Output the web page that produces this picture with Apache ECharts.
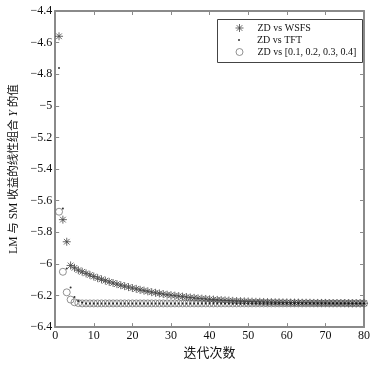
<!DOCTYPE html>
<html><head><meta charset="utf-8">
<script src="https://cdn.jsdelivr.net/npm/echarts@6/dist/echarts.min.js"></script>
<style>html,body{margin:0;padding:0;background:#fff}#c{width:381px;height:365px}</style>
</head><body><div id="c"></div>
<script>
const xTicks = [0, 10, 20, 30, 40, 50, 60, 70, 80];
const yTicks = [-6.4, -6.2, -6, -5.8, -5.6, -5.4, -5.2, -5, -4.8, -4.6, -4.4];
const seriesNames = ['ZD vs WSFS', 'ZD vs TFT', 'ZD vs [0.1, 0.2, 0.3, 0.4]'];
const iterations = [1,2,3,4,5,6,7,8,9,10,11,12,13,14,15,16,17,18,19,20,21,22,23,24,25,26,27,28,29,30,31,32,33,34,35,36,37,38,39,40,41,42,43,44,45,46,47,48,49,50,51,52,53,54,55,56,57,58,59,60,61,62,63,64,65,66,67,68,69,70,71,72,73,74,75,76,77,78,79,80];
const wsfs = [-4.56,-5.72,-5.86,-6.01,-6.025,-6.04,-6.05,-6.06,-6.07,-6.08,-6.09,-6.098,-6.106,-6.114,-6.121,-6.128,-6.135,-6.141,-6.147,-6.153,-6.158,-6.164,-6.169,-6.174,-6.179,-6.183,-6.187,-6.191,-6.195,-6.198,-6.201,-6.204,-6.207,-6.21,-6.213,-6.215,-6.218,-6.22,-6.222,-6.224,-6.226,-6.228,-6.229,-6.231,-6.232,-6.234,-6.235,-6.236,-6.237,-6.238,-6.239,-6.24,-6.24,-6.241,-6.242,-6.242,-6.243,-6.243,-6.244,-6.244,-6.245,-6.245,-6.245,-6.246,-6.246,-6.246,-6.247,-6.247,-6.247,-6.247,-6.248,-6.248,-6.248,-6.248,-6.248,-6.249,-6.249,-6.249,-6.249,-6.249];
const tft = [-4.76,-5.65,-6.03,-6.15,-6.21,-6.235,-6.245,-6.25,-6.25,-6.25,-6.25,-6.25,-6.25,-6.25,-6.25,-6.25,-6.25,-6.25,-6.25,-6.25,-6.25,-6.25,-6.25,-6.25,-6.25,-6.25,-6.25,-6.25,-6.25,-6.25,-6.25,-6.25,-6.25,-6.25,-6.25,-6.25,-6.25,-6.25,-6.25,-6.25,-6.25,-6.25,-6.25,-6.25,-6.25,-6.25,-6.25,-6.25,-6.25,-6.25,-6.25,-6.25,-6.25,-6.25,-6.25,-6.25,-6.25,-6.25,-6.25,-6.25,-6.25,-6.25,-6.25,-6.25,-6.25,-6.25,-6.25,-6.25,-6.25,-6.25,-6.25,-6.25,-6.25,-6.25,-6.25,-6.25,-6.25,-6.25,-6.25,-6.25];
const fixedW = [-5.67,-6.05,-6.18,-6.226,-6.243,-6.248,-6.25,-6.25,-6.25,-6.25,-6.25,-6.25,-6.25,-6.25,-6.25,-6.25,-6.25,-6.25,-6.25,-6.25,-6.25,-6.25,-6.25,-6.25,-6.25,-6.25,-6.25,-6.25,-6.25,-6.25,-6.25,-6.25,-6.25,-6.25,-6.25,-6.25,-6.25,-6.25,-6.25,-6.25,-6.25,-6.25,-6.25,-6.25,-6.25,-6.25,-6.25,-6.25,-6.25,-6.25,-6.25,-6.25,-6.25,-6.25,-6.25,-6.25,-6.25,-6.25,-6.25,-6.25,-6.25,-6.25,-6.25,-6.25,-6.25,-6.25,-6.25,-6.25,-6.25,-6.25,-6.25,-6.25,-6.25,-6.25,-6.25,-6.25,-6.25,-6.25,-6.25,-6.25];

const pairs = (ys) => iterations.map((x, i) => [x, ys[i]]);
const FONT = '"Liberation Serif", "Times New Roman", "Noto Sans CJK SC", serif';
const AXC = '#8a8a8a';
const star = 'path://M0,-10L0,10M-10,0L10,0M-7.07,-7.07L7.07,7.07M-7.07,7.07L7.07,-7.07';
const fmtY = v => (Math.round(v * 10) / 10).toString().replace('-', '\u2212');
const hollow = c => ({ color: 'rgba(0,0,0,0)', borderColor: c, borderWidth: 1 });
const legText = { fontFamily: FONT, fontSize: 10, color: '#111', padding: [0, 0, 0, 6], lineHeight: 12 };

const chart = echarts.init(document.getElementById('c'));
const axisCommon = {
  axisLine: { onZero: false, lineStyle: { color: AXC, width: 2 } },
  axisTick: { inside: true, length: 4, lineStyle: { color: AXC, width: 1 } },
  splitLine: { show: false }
};
chart.setOption({
  animation: false,
  backgroundColor: '#fff',
  grid: { left: 52, right: 17, top: 11, bottom: 33 },
  xAxis: [
    Object.assign({ type: 'value', min: xTicks[0], max: xTicks[xTicks.length - 1], interval: 10, position: 'bottom',
      axisLabel: { color: '#111', fontFamily: FONT, fontSize: 12, margin: 3 },
      name: '迭代次数', nameLocation: 'middle', nameGap: 17,
      nameTextStyle: { color: '#111', fontFamily: FONT, fontSize: 13 } }, axisCommon),
    Object.assign({ type: 'value', min: xTicks[0], max: xTicks[xTicks.length - 1], interval: 10, position: 'top',
      axisLabel: { show: false } }, axisCommon)
  ],
  yAxis: [
    Object.assign({ type: 'value', min: yTicks[0], max: yTicks[yTicks.length - 1], interval: 0.2, position: 'left',
      axisLabel: { color: '#111', fontFamily: FONT, fontSize: 12, margin: 3, formatter: fmtY },
      name: 'LM 与 SM 收益的线性组合 {i|Y} 的值', nameLocation: 'middle', nameGap: 27, nameRotate: 90,
      nameTextStyle: { color: '#111', fontFamily: FONT, fontSize: 11.5,
        rich: { i: { fontStyle: 'italic', fontFamily: FONT, fontSize: 11.5, color: '#111' } } } }, axisCommon),
    Object.assign({ type: 'value', min: yTicks[0], max: yTicks[yTicks.length - 1], interval: 0.2, position: 'right',
      axisLabel: { show: false } }, axisCommon)
  ],
  graphic: [{ type: 'rect', left: 217, top: 19, shape: { width: 145, height: 43 },
    style: { fill: '#fff', stroke: '#444', lineWidth: 1 }, z: 5 }],
  legend: [
    { data: [{ name: seriesNames[0], itemStyle: hollow('#444') }], left: 235, top: 22, padding: 0, itemWidth: 14, itemHeight: 8, z: 10, textStyle: legText },
    { data: [seriesNames[1]], left: 238, top: 34, padding: 0, itemWidth: 14, itemHeight: 2, z: 10, textStyle: legText },
    { data: [{ name: seriesNames[2], itemStyle: hollow('#777') }], left: 235.5, top: 46, padding: 0, itemWidth: 14, itemHeight: 7, z: 10, textStyle: legText }
  ],
  series: [
    { name: seriesNames[2], type: 'scatter', data: pairs(fixedW), symbol: 'circle', symbolSize: 7,
      itemStyle: hollow('#777'), z: 2 },
    { name: seriesNames[0], type: 'scatter', data: pairs(wsfs), symbol: star, symbolSize: 8,
      itemStyle: hollow('#444'), z: 3 },
    { name: seriesNames[1], type: 'scatter', data: pairs(tft), symbol: 'circle', symbolSize: 2,
      itemStyle: { color: '#000' }, z: 4 }
  ]
});
</script></body></html>
